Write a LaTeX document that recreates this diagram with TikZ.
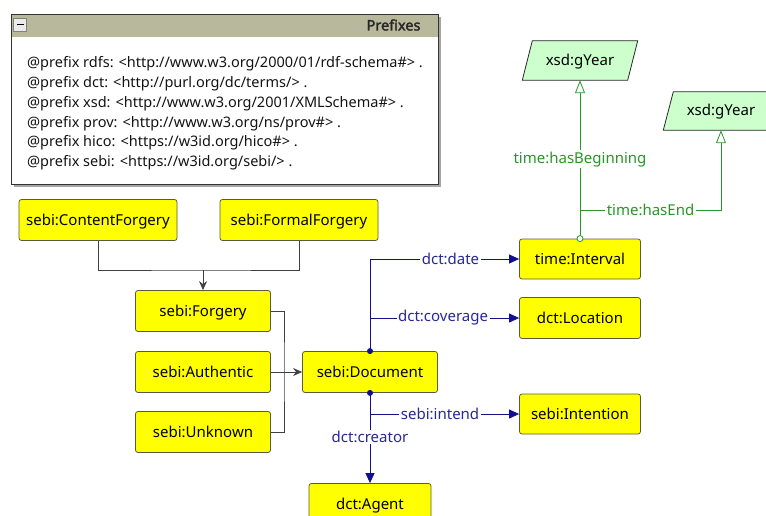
\documentclass[tikz,border=0pt]{standalone}
\usepackage{fontspec}
\setmainfont{Noto Sans}[AutoFakeBold=2]
\usetikzlibrary{arrows.meta,calc}

\definecolor{clsfill}{RGB}{255,255,0}
\definecolor{clsline}{RGB}{90,90,60}
\definecolor{dtfill}{RGB}{204,255,204}
\definecolor{navyline}{RGB}{16,16,140}
\definecolor{navytext}{RGB}{40,40,150}
\definecolor{greenline}{RGB}{40,150,40}
\definecolor{notehead}{RGB}{184,184,156}
\definecolor{notetext}{RGB}{20,20,20}

\tikzset{
  cls/.style={draw=clsline, fill=clsfill, rounded corners=2.5pt, line width=0.8pt,
    minimum height=41pt, inner sep=0pt, text height=11pt, text depth=1pt,
    font=\fontsize{15}{17}\selectfont},
  dtype/.style={minimum width=115pt, minimum height=39pt, inner sep=0pt,
    text height=11pt, text depth=1pt, font=\fontsize{15}{17}\selectfont},
  gen/.style={draw=black!75, line width=0.8pt},
  genarrow/.style={gen, -{Stealth[length=9pt,width=8pt,inset=3pt]}},
  nvline/.style={draw=navyline, line width=0.8pt},
  nvarrow/.style={nvline, -{Triangle[length=10pt,width=9pt]}},
  nvlbl/.style={fill=white, inner sep=1.5pt, text=navytext, font=\fontsize{15}{17}\selectfont},
  grline/.style={draw=greenline, line width=0.8pt},
  grarrow/.style={grline, -{Triangle[open,length=13pt,width=10pt,fill=white]}},
  grlbl/.style={fill=white, inner sep=1.5pt, text=greenline, font=\fontsize{15}{17}\selectfont},
}

\begin{document}
\begin{tikzpicture}[x=1pt,y=-1pt]
\useasboundingbox (0,0) rectangle (766,516);
\clip (0,0) rectangle (766,516);

% prefix note
\fill[black!35] (14,17) rectangle (441,187);
\node[draw=black!80, fill=white, line width=0.8pt, anchor=north west,
      minimum width=427pt, minimum height=170pt, inner sep=0pt] (pfx) at (11,14) {};
\fill[notehead] (11.4,14.4) rectangle (437.6,37);
\draw[black!80, line width=0.8pt] (pfx.north west) rectangle (pfx.south east);
\node[draw=black!50, fill=black!8, minimum size=13pt, inner sep=0pt] (pfxtoggle) at (20,25) {};
\draw[line width=1pt] ($(pfxtoggle.center)+(-3.5pt,0)$) -- ($(pfxtoggle.center)+(3.5pt,0)$);
\node[anchor=east, font=\fontsize{14.5}{17}\selectfont\bfseries, text=black!85] (pfxtitle) at (424,25) {Prefixes};
\node[anchor=north west, align=left, inner sep=0pt, text=notetext,
      font=\fontsize{14.5}{19.8}\selectfont] (pfxbody) at (27,56.5)
  {@prefix rdfs: <http://www.w3.org/2000/01/rdf-schema\#> .\\
   @prefix dct: <http://purl.org/dc/terms/> .\\
   @prefix xsd: <http://www.w3.org/2001/XMLSchema\#> .\\
   @prefix prov: <http://www.w3.org/ns/prov\#> .\\
   @prefix hico: <https://w3id.org/hico\#> .\\
   @prefix sebi: <https://w3id.org/sebi/> .};

% classes
\node[cls, minimum width=158pt] (cf) at (98,220) {sebi:ContentForgery};
\node[cls, minimum width=158pt] (ff) at (299,220) {sebi:FormalForgery};
\node[cls, minimum width=135pt] (forg) at (203,311) {sebi:Forgery};
\node[cls, minimum width=135pt] (auth) at (203,372) {sebi:Authentic};
\node[cls, minimum width=135pt] (unk) at (203,432) {sebi:Unknown};
\node[cls, minimum width=135pt] (doc) at (370,372) {sebi:Document};
\node[cls, minimum width=122pt] (agent) at (370,504) {dct:Agent};
\node[cls, minimum width=121pt, minimum height=40pt] (intv) at (580,259) {time:Interval};
\node[cls, minimum width=121pt] (loc) at (580,318) {dct:Location};
\node[cls, minimum width=121pt, minimum height=40pt] (intn) at (580,414) {sebi:Intention};

% datatypes (parallelograms)
\node[dtype] (g1) at (580,60.5) {};
\node[dtype, minimum height=38pt] (g2) at (721,111) {};
\foreach \g in {g1,g2}{
  \filldraw[fill=dtfill, draw=black!85, line width=0.8pt]
    (\g.south west) -- ($(\g.north west)+(10pt,0)$) -- (\g.north east)
    -- ($(\g.south east)-(10pt,0)$) -- cycle;
  \node[dtype] at (\g) {xsd:gYear};
}

% subclass hierarchy
\coordinate (j1) at (203,270);
\draw[gen] (cf.south) |- (j1) -| (ff.south);
\draw[genarrow] (j1) -- (forg.north);
\coordinate (j2) at (284,372);
\draw[gen] (forg.east) -| (j2) |- (unk.east);
\draw[genarrow] (auth.east) -- (doc.west);

% object properties
\draw[nvarrow] (doc.north) |- node[nvlbl, pos=0.77] {dct:date} (intv.west);
\draw[nvarrow] (doc.north) |- node[nvlbl, pos=0.745] {dct:coverage} (loc.west);
\draw[nvarrow] (doc.south) |- node[nvlbl, pos=0.735] {sebi:intend} (intn.west);
\draw[nvarrow] (doc.south) -- node[nvlbl, pos=0.49] {dct:creator} (agent.north);
\fill[navyline] (doc.north) circle (3pt);
\fill[navyline] (doc.south) circle (3pt);

% datatype properties
\draw[grarrow] (intv.north) -- node[grlbl, pos=0.5] {time:hasBeginning} (g1.south);
\coordinate (e1) at (580,210);
\draw[grarrow] (e1) -| node[grlbl, pos=0.25] {time:hasEnd} (g2.south);
\filldraw[draw=greenline, fill=white, line width=0.8pt] (intv.north) circle (3pt);
\end{tikzpicture}
\end{document}
